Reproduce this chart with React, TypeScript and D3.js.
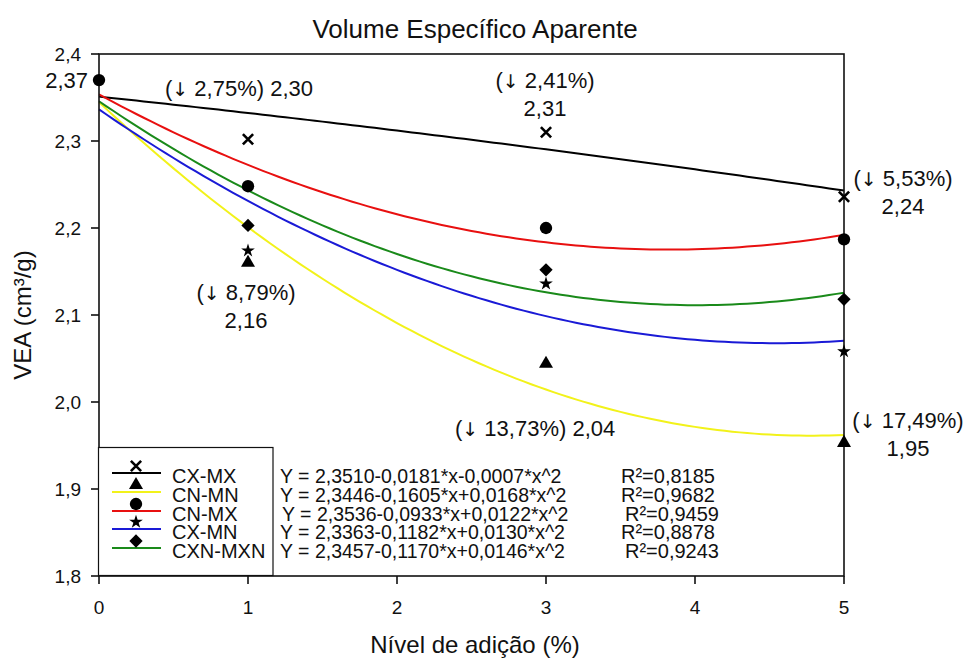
import React from "react";
import * as d3 from "d3";

// Addition levels (%) where samples were measured
const levels = [1, 3, 5];
// Shared control sample (0 %)
const controlLevel = 0;
const controlValue = 2.37;

const seriesNames = ["CX-MX", "CN-MN", "CN-MX", "CX-MN", "CXN-MXN"];
const seriesColors = ["#000000", "#f2f21a", "#e81010", "#1a1ad6", "#1a8a1a"];
const seriesSymbols = ["times", "triangle", "circle", "star", "diamond"];

// Measured VEA (cm³/g) at levels 1, 3, 5
const cxmx = [2.302, 2.31, 2.236];
const cnmn = [2.16, 2.044, 1.953];
const cnmx = [2.248, 2.2, 2.187];
const cxmn = [2.174, 2.136, 2.058];
const cxnmxn = [2.203, 2.152, 2.118];
const seriesValues = [cxmx, cnmn, cnmx, cxmn, cxnmxn];

// Quadratic fits: Y = a + b*x + c*x^2
const fitA = [2.351, 2.3446, 2.3536, 2.3363, 2.3457];
const fitB = [-0.0181, -0.1605, -0.0933, -0.1182, -0.117];
const fitC = [-0.0007, 0.0168, 0.0122, 0.013, 0.0146];
const equations = [
  "Y = 2,3510-0,0181*x-0,0007*x^2",
  "Y = 2,3446-0,1605*x+0,0168*x^2",
  "Y = 2,3536-0,0933*x+0,0122*x^2",
  "Y = 2,3363-0,1182*x+0,0130*x^2",
  "Y = 2,3457-0,1170*x+0,0146*x^2",
];
const r2Values = ["0,8185", "0,9682", "0,9459", "0,8878", "0,9243"];

const xTicks = [0, 1, 2, 3, 4, 5];
const yTicks = [1.8, 1.9, 2.0, 2.1, 2.2, 2.3, 2.4];

// Value callouts: series index, level index, reduction text
const calloutSeries = [0, 0, 1, 1, 0, 1];
const calloutLevel = [0, 1, 0, 1, 2, 2];
const calloutPct = ["2,75", "2,41", "8,79", "13,73", "5,53", "17,49"];

const W = 968;
const H = 661;
const FONT = "'Liberation Sans', Arial, Helvetica, sans-serif";
const ARROW_FONT = "'DejaVu Sans', 'Liberation Sans', sans-serif";

const x = d3.scaleLinear().domain([0, 5]).range([99, 844]);
const y = d3.scaleLinear().domain([1.8, 2.4]).range([576, 54]);

const fmtTick = (v: number) => d3.format(".1f")(v).replace(".", ",");
const fmtVal = (v: number) => d3.format(".2f")(v).replace(".", ",");

function symbolPath(kind: string, size: number) {
  if (kind === "times") return d3.symbol(d3.symbolTimes, size)() as string;
  if (kind === "triangle") return d3.symbol(d3.symbolTriangle, size)() as string;
  if (kind === "circle") return d3.symbol(d3.symbolCircle, size)() as string;
  if (kind === "star") return d3.symbol(d3.symbolStar, size)() as string;
  return d3.symbol(d3.symbolSquare, size)() as string;
}

function Marker({ kind, cx, cy }: { kind: string; cx: number; cy: number }) {
  const sizes: Record<string, number> = {
    times: 70,
    triangle: 85,
    circle: 120,
    star: 58,
    diamond: 88,
  };
  const d = symbolPath(kind, sizes[kind]);
  const rot = kind === "diamond" ? " rotate(45)" : "";
  if (kind === "times") {
    return (
      <path
        d={d}
        transform={`translate(${cx},${cy})`}
        fill="none"
        stroke="#000"
        strokeWidth={2.6}
      />
    );
  }
  return <path d={d} transform={`translate(${cx},${cy})${rot}`} fill="#000" />;
}

function Pct({ p }: { p: string }) {
  return (
    <>
      {"("}
      <tspan fontFamily={ARROW_FONT} fontSize={19}>↓</tspan>
      {` ${p}%)`}
    </>
  );
}

export default function App() {
  const samples = d3.range(0, 5.0001, 0.05);
  const curves = fitA.map((a, i) =>
    d3
      .line<number>()
      .x((t) => x(t))
      .y((t) => y(a + fitB[i] * t + fitC[i] * t * t))(samples) as string
  );

  // Pixel offsets of each callout relative to its point
  const calloutLayout = [
    { lines: 1, dx: -83, dy: -43, anchor: "start" },
    { lines: 2, dx: -1, dy: -44, anchor: "middle" },
    { lines: 2, dx: -2, dy: 37, anchor: "middle" },
    { lines: 1, dx: -91, dy: 72, anchor: "start" },
    { lines: 2, dx: 59, dy: -11, anchor: "middle" },
    { lines: 2, dx: 64, dy: -15, anchor: "middle" },
  ];

  const legendRowY = [473, 492, 511, 529, 548];

  return (
    <svg
      width={W}
      height={H}
      style={{ position: "absolute", left: 0, top: 0, background: "#fff" }}
      fontFamily={FONT}
    >
      <rect width={W} height={H} fill="#fff" />
      <text x={475} y={38} fontSize={26} textAnchor="middle" fill="#111">
        Volume Específico Aparente
      </text>

      {/* fitted curves */}
      {curves.map((d, i) => (
        <path key={i} d={d} fill="none" stroke={seriesColors[i]} strokeWidth={2} />
      ))}

      {/* frame */}
      <rect
        x={x(0)}
        y={y(2.4)}
        width={x(5) - x(0)}
        height={y(1.8) - y(2.4)}
        fill="none"
        stroke="#111"
        strokeWidth={1.6}
      />

      {/* y axis */}
      {yTicks.map((t) => (
        <g key={t}>
          <line x1={x(0) - 8} x2={x(0)} y1={y(t)} y2={y(t)} stroke="#111" strokeWidth={1.6} />
          <text x={81} y={y(t) + 7} fontSize={19} textAnchor="end" fill="#111">
            {fmtTick(t)}
          </text>
        </g>
      ))}
      {/* x axis */}
      {xTicks.map((t) => (
        <g key={t}>
          <line x1={x(t)} x2={x(t)} y1={y(1.8)} y2={y(1.8) + 8} stroke="#111" strokeWidth={1.6} />
          <text x={x(t)} y={614} fontSize={19} textAnchor="middle" fill="#111">
            {t}
          </text>
        </g>
      ))}

      <text x={475} y={653} fontSize={24} textAnchor="middle" fill="#111">
        Nível de adição (%)
      </text>
      <text
        transform={`translate(31,315) rotate(-90)`}
        fontSize={24}
        textAnchor="middle"
        fill="#111"
      >
        VEA (cm³/g)
      </text>

      {/* measured points */}
      {seriesValues.map((vals, i) =>
        vals.map((v, j) => (
          <Marker key={`${i}-${j}`} kind={seriesSymbols[i]} cx={x(levels[j])} cy={y(v)} />
        ))
      )}
      <Marker kind="circle" cx={x(controlLevel)} cy={y(controlValue)} />

      {/* callouts */}
      <text x={x(controlLevel) - 11} y={y(controlValue) + 8} fontSize={22} textAnchor="end" fill="#111">
        {fmtVal(controlValue)}
      </text>
      {calloutPct.map((p, k) => {
        const s = calloutSeries[k];
        const l = calloutLevel[k];
        const v = seriesValues[s][l];
        const px = x(levels[l]);
        const py = y(v);
        const lay = calloutLayout[k];
        if (lay.lines === 1) {
          return (
            <text key={k} x={px + lay.dx} y={py + lay.dy} fontSize={22} textAnchor={lay.anchor as any} fill="#111">
              <Pct p={p} />
              {` ${fmtVal(v)}`}
            </text>
          );
        }
        return (
          <g key={k}>
            <text x={px + lay.dx} y={py + lay.dy} fontSize={22} textAnchor={lay.anchor as any} fill="#111">
              <Pct p={p} />
            </text>
            <text x={px + lay.dx} y={py + lay.dy + 28} fontSize={22} textAnchor={lay.anchor as any} fill="#111">
              {fmtVal(v)}
            </text>
          </g>
        );
      })}

      {/* legend */}
      <rect x={98.5} y={447.5} width={174.5} height={128} fill="#fff" stroke="#111" strokeWidth={1.2} />
      {seriesNames.map((name, i) => {
        const ly = legendRowY[i];
        return (
          <g key={name}>
            <line x1={112} x2={161} y1={ly} y2={ly} stroke={seriesColors[i]} strokeWidth={2} />
            <Marker kind={seriesSymbols[i]} cx={136} cy={ly - 7} />
            <text x={172} y={ly + 9.5} fontSize={20} fill="#111">
              {name}
            </text>
            <text x={i === 2 ? 282 : 280} y={ly + 9.5} fontSize={19.5} fill="#111">
              {equations[i]}
            </text>
            <text x={i === 2 || i === 4 ? 625 : 621} y={ly + 9.5} fontSize={20} fill="#111">
              {`R²=${r2Values[i]}`}
            </text>
          </g>
        );
      })}
    </svg>
  );
}
